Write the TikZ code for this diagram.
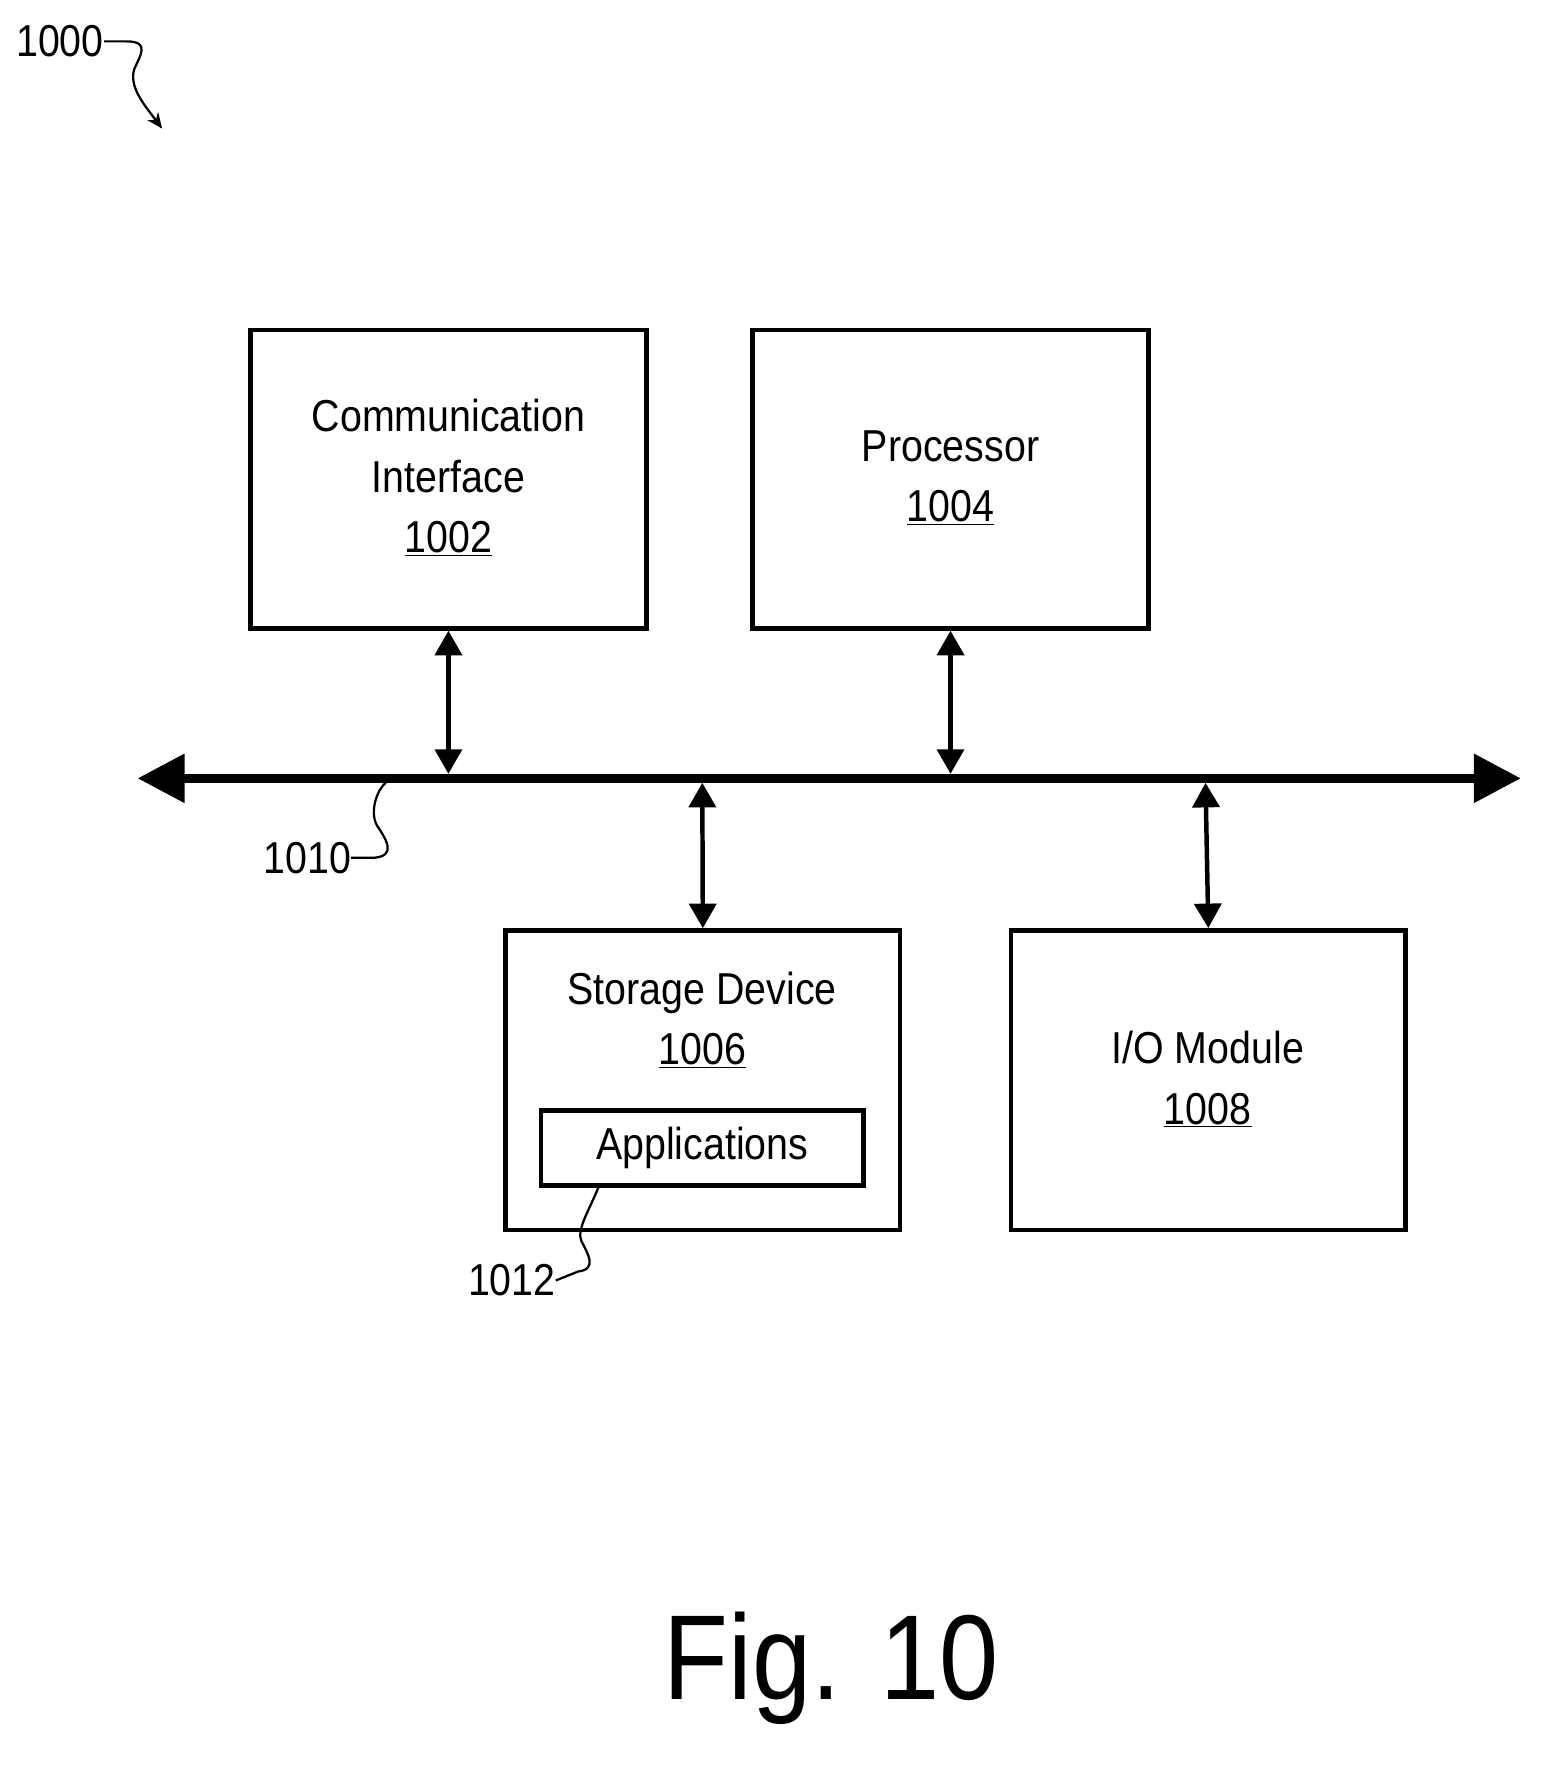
\documentclass[tikz,border=0pt]{standalone}
\usepackage{fontspec}
\setmainfont{Liberation Sans}[FakeStretch=0.88]
\usetikzlibrary{arrows.meta}
\begin{document}
\begin{tikzpicture}[x=1pt,y=-1pt,
  box/.style={draw,line width=4pt,inner sep=0pt},
  lbl/.style={font=\fontsize{40}{54}\selectfont,align=center},
  dbl/.style={line width=4pt,{Triangle[length=22pt,width=24pt]}-{Triangle[length=22pt,width=24pt]}},
  lead/.style={line width=2pt}]
\useasboundingbox (0,0) rectangle (1390,1581);
\node[box,minimum width=354pt,minimum height=267pt] (ci) at (401,428.5) {};
\node[lbl] at (401,427) {Communication\\Interface\\\underline{1002}};
\node[box,minimum width=354pt,minimum height=267pt] (pr) at (850,428.5) {};
\node[lbl] at (850,427) {Processor\\\underline{1004}};
\node[box,minimum width=353pt,minimum height=268pt] (sd) at (628.5,966) {};
\node[lbl] at (628,912) {Storage Device\\\underline{1006}};
\node[box,minimum width=288pt,minimum height=67pt,font=\fontsize{40}{54}\selectfont] (ap) at (628,1026.5) {Applications};
\node[box,minimum width=353pt,minimum height=268pt] (io) at (1080.5,966) {};
\node[lbl] at (1080,965) {I/O Module\\\underline{1008}};
\coordinate (bl) at (123,696); \coordinate (br) at (1360,696);
\draw[line width=8pt,{Triangle[length=42pt,width=42pt]}-{Triangle[length=42pt,width=42pt]}] (bl) -- (br);
\coordinate (b1) at (401,692); \coordinate (b2) at (850,692);
\coordinate (b3) at (628,700); \coordinate (b4) at (1078,700);
\draw[dbl] (ci.south) -- (b1);
\draw[dbl] (pr.south) -- (b2);
\draw[dbl] (b3) -- (sd.north);
\draw[dbl] (b4) -- (io.north);
\node[lbl,anchor=east,inner sep=0pt] (l1010) at (314,767) {1010};
\coordinate (c1010) at (345,700);
\draw[lead] (l1010.east) -- (335,767) .. controls (355,765) and (345,750) .. (337,738) .. controls (330,725) and (338,705) .. (c1010);
\node[lbl,anchor=east,inner sep=0pt] (l1012) at (497,1145) {1012};
\coordinate (c1012) at (535,1062);
\draw[lead] (l1012.east) -- (517,1137) .. controls (535,1135) and (525,1120) .. (520,1110) .. controls (515,1100) and (528,1080) .. (c1012);
\node[lbl,anchor=east,inner sep=0pt] (l1000) at (93,37) {1000};
\coordinate (c1000) at (145,115);
\draw[lead,-{Stealth[length=14pt,width=12pt]}] (l1000.east) -- (113,37) .. controls (135,37) and (125,50) .. (120,62) .. controls (115,78) and (130,95) .. (c1000);
\node[font=\fontsize{108}{120}\selectfont] (fig) at (743,1492) {Fig. 10};
\end{tikzpicture}
\end{document}
